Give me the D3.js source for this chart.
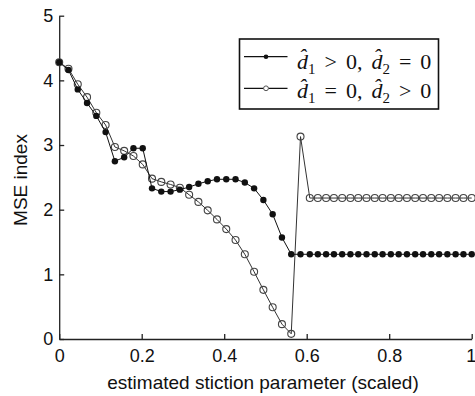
<!DOCTYPE html>
<html>
<head>
<meta charset="utf-8">
<script src="https://cdn.jsdelivr.net/npm/d3@7"></script>
<style>
  html, body { margin: 0; padding: 0; background: #fff; }
  svg { display: block; }
  .axis text { font-family: Arial, "Liberation Sans", sans-serif; font-size: 18px; fill: #111; }
  .axis path, .axis line { stroke: #222; stroke-width: 1.3; }
</style>
</head>
<body>
<svg id="chart" width="475" height="396"></svg>
<script>
// Estimated stiction parameter (scaled)
const stiction = [
  0, 0.0225, 0.045, 0.0675, 0.09, 0.1125, 0.135, 0.1575, 0.18, 0.2025,
  0.225, 0.2475, 0.27, 0.2925, 0.315, 0.3375, 0.36, 0.3825, 0.405, 0.4275,
  0.45, 0.4725, 0.495, 0.5175, 0.54, 0.5625, 0.585, 0.6075, 0.627, 0.647,
  0.666, 0.686, 0.706, 0.725, 0.745, 0.765, 0.784, 0.804, 0.823, 0.843,
  0.863, 0.882, 0.902, 0.921, 0.941, 0.961, 0.980, 1.0
];
// MSE index, d1 > 0, d2 = 0
const mseD1 = [
  4.28, 4.16, 3.86, 3.65, 3.45, 3.20, 2.75, 2.81, 2.95, 2.95,
  2.33, 2.28, 2.28, 2.31, 2.35, 2.40, 2.44, 2.47, 2.47, 2.47,
  2.42, 2.33, 2.15, 1.93, 1.57, 1.31, 1.31, 1.31, 1.31, 1.31,
  1.31, 1.31, 1.31, 1.31, 1.31, 1.31, 1.31, 1.31, 1.31, 1.31,
  1.31, 1.31, 1.31, 1.31, 1.31, 1.31, 1.31, 1.31
];
// MSE index, d1 = 0, d2 > 0
const mseD2 = [
  4.28, 4.18, 3.94, 3.74, 3.50, 3.31, 2.97, 2.91, 2.83, 2.70,
  2.48, 2.43, 2.39, 2.34, 2.23, 2.12, 1.99, 1.85, 1.70, 1.53,
  1.31, 1.04, 0.76, 0.49, 0.23, 0.08, 3.13, 2.18, 2.18, 2.18,
  2.18, 2.18, 2.18, 2.18, 2.18, 2.18, 2.18, 2.18, 2.18, 2.18,
  2.18, 2.18, 2.18, 2.18, 2.18, 2.18, 2.18, 2.18
];
const xTicks = [0, 0.2, 0.4, 0.6, 0.8, 1];
const yTicks = [0, 1, 2, 3, 4, 5];

const svg = d3.select("#chart");
const x = d3.scaleLinear().domain([0, 1]).range([59.2, 471.7]);
const y = d3.scaleLinear().domain([0, 5]).range([339, 15.7]);

// Axes with inward ticks, no box
const gx = svg.append("g").attr("class", "axis")
  .attr("transform", `translate(0,${y(0)})`)
  .call(d3.axisBottom(x).tickValues(xTicks).tickFormat(d => d3.format("")(d))
    .tickSizeInner(-5).tickSizeOuter(0).tickPadding(10));
// keep the last label inside the canvas
gx.selectAll(".tick text").filter(d => d === 1)
  .attr("text-anchor", "end").attr("dx", 4);
svg.append("g").attr("class", "axis")
  .attr("transform", `translate(${x(0)},0)`)
  .call(d3.axisLeft(y).tickValues(yTicks).tickFormat(d3.format("d"))
    .tickSizeInner(-5).tickSizeOuter(0).tickPadding(6));

// Axis titles
svg.append("text")
  .attr("x", 263).attr("y", 389)
  .attr("text-anchor", "middle")
  .style("font-family", "Arial, 'Liberation Sans', sans-serif")
  .style("font-size", "19px").style("fill", "#111")
  .text("estimated stiction parameter (scaled)");
svg.append("text")
  .attr("transform", "translate(27,180) rotate(-90)")
  .attr("text-anchor", "middle")
  .style("font-family", "Arial, 'Liberation Sans', sans-serif")
  .style("font-size", "19px").style("fill", "#111")
  .text("MSE index");

const line = d3.line().x(d => x(d[0])).y(d => y(d[1]));
const ptsD1 = stiction.map((s, i) => [s, mseD1[i]]);
const ptsD2 = stiction.map((s, i) => [s, mseD2[i]]);

// Series d1 = 0, d2 > 0 : hollow circles
svg.append("path").datum(ptsD2)
  .attr("d", line).attr("fill", "none")
  .attr("stroke", "#333").attr("stroke-width", 1);
svg.append("g").selectAll("circle").data(ptsD2).join("circle")
  .attr("cx", d => x(d[0])).attr("cy", d => y(d[1])).attr("r", 3.5)
  .attr("fill", "none").attr("stroke", "#444").attr("stroke-width", 1.1);

// Series d1 > 0, d2 = 0 : filled dots
svg.append("path").datum(ptsD1)
  .attr("d", line).attr("fill", "none")
  .attr("stroke", "#111").attr("stroke-width", 1);
svg.append("g").selectAll("circle").data(ptsD1).join("circle")
  .attr("cx", d => x(d[0])).attr("cy", d => y(d[1])).attr("r", 3.2)
  .attr("fill", "#111");

// Legend
const lg = svg.append("g");
lg.append("rect")
  .attr("x", 239.5).attr("y", 39).attr("width", 199).attr("height", 70)
  .attr("fill", "#fff").attr("stroke", "#111").attr("stroke-width", 1.6);

const legendItems = [
  { yl: 56.7, base: 68.5, filled: true,  rel1: ">", rel2: "=" },
  { yl: 88.3, base: 98, filled: false, rel1: "=", rel2: ">" }
];
legendItems.forEach(it => {
  lg.append("line").attr("x1", 244).attr("x2", 287.5)
    .attr("y1", it.yl).attr("y2", it.yl)
    .attr("stroke", "#111").attr("stroke-width", 1.2);
  lg.append("circle").attr("cx", 266).attr("cy", it.yl)
    .attr("r", it.filled ? 2.3 : 2.4)
    .attr("fill", it.filled ? "#111" : "#fff")
    .attr("stroke", it.filled ? "none" : "#555").attr("stroke-width", 1);
  const t = lg.append("text").attr("x", 297).attr("y", it.base)
    .style("font-family", "'Liberation Serif', 'DejaVu Serif', serif")
    .style("font-size", "22px").style("word-spacing", "3.5px").style("fill", "#111");
  t.append("tspan").style("font-style", "italic").text("d\u0302");
  t.append("tspan").attr("dy", 5).style("font-size", "15px").text("1");
  t.append("tspan").attr("dy", -5).text(` ${it.rel1 === ">" ? "> 0" : "= 0"}, `);
  t.append("tspan").style("font-style", "italic").text("d\u0302");
  t.append("tspan").attr("dy", 5).style("font-size", "15px").text("2");
  t.append("tspan").attr("dy", -5).text(` ${it.rel2 === ">" ? "> 0" : "= 0"}`);
});
</script>
</body>
</html>
